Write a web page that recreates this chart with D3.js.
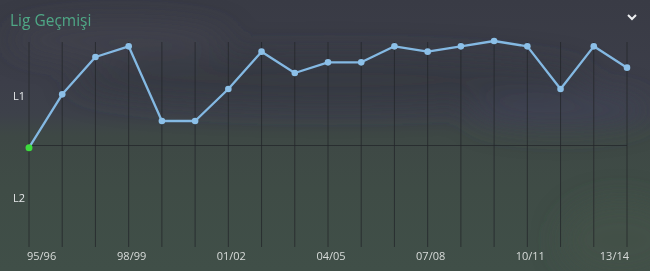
<!DOCTYPE html>
<html>
<head>
<meta charset="utf-8">
<script src="https://cdn.jsdelivr.net/npm/d3@7"></script>
<style>
  html, body { margin: 0; padding: 0; background: #3c3f47; }
  svg { display: block; font-family: "Open Sans", "Noto Sans", sans-serif; }
</style>
</head>
<body>
<svg id="chart"></svg>
<script>
let seasons = ["95/96", "96/97", "97/98", "98/99", "99/00", "00/01", "01/02", "02/03", "03/04", "04/05",
               "05/06", "06/07", "07/08", "08/09", "09/10", "10/11", "11/12", "12/13", "13/14"]
// overall place: 1-20 = L1, 21-40 = L2
let positions = [21, 11, 4, 2, 16, 16, 10, 3, 7, 5, 5, 2, 3, 2, 1, 2, 10, 2, 6]
let leagues = ["L1", "L2"]
let tickLabels = ["95/96", "98/99", "01/02", "04/05", "07/08", "10/11", "13/14"]

let width = 650
let height = 271
let plotTop = 42
let plotBottom = 247

let svg = d3.select('#chart')
    .attr('width', width)
    .attr('height', height)

let defs = svg.append('defs')

let bg = defs.append('linearGradient')
    .attr('id', 'bg')
    .attr('x1', 0).attr('y1', 0).attr('x2', 0).attr('y2', 1)
let bgStops = [[0, '#393b45'], [0.3, '#3c3e49'], [0.42, '#3d414a'], [0.5, '#3e4845'], [0.7, '#3f4c46'], [1, '#404f48']]
bgStops.forEach(s => bg.append('stop').attr('offset', s[0]).attr('stop-color', s[1]))

let blur = defs.append('filter').attr('id', 'blur')
    .attr('x', '-50%').attr('y', '-50%').attr('width', '200%').attr('height', '200%')
blur.append('feGaussianBlur').attr('stdDeviation', 14)

svg.append('rect')
    .attr('width', width)
    .attr('height', height)
    .attr('fill', 'url(#bg)')

// blurry stadium stand shapes
let blobs = svg.append('g').attr('filter', 'url(#blur)')
blobs.append('ellipse').attr('cx', 330).attr('cy', 80).attr('rx', 260).attr('ry', 26).attr('fill', '#35363f').attr('opacity', 0.7)
blobs.append('ellipse').attr('cx', 120).attr('cy', 40).attr('rx', 110).attr('ry', 18).attr('fill', '#44464f').attr('opacity', 0.6)
blobs.append('ellipse').attr('cx', 560).attr('cy', 110).attr('rx', 90).attr('ry', 18).attr('fill', '#3f4256').attr('opacity', 0.7)
blobs.append('ellipse').attr('cx', 620).attr('cy', 240).attr('rx', 60).attr('ry', 40).attr('fill', '#43534a').attr('opacity', 0.6)

// title and chevron
svg.append('text')
    .attr('x', 10)
    .attr('y', 26)
    .attr('font-size', 15.5)
    .attr('fill', '#4fa886')
    .text('Lig Geçmişi')

svg.append('path')
    .attr('d', 'M628,15 L632,19 L636,15')
    .attr('fill', 'none')
    .attr('stroke', '#eef0f2')
    .attr('stroke-width', 2)

let xScale = d3.scalePoint()
    .domain(seasons)
    .range([29, 627])

let yScale = d3.scaleLinear()
    .domain([1, 40])
    .range([41, 249])

// vertical grid
svg.append('g')
    .selectAll('line')
    .data(seasons)
    .enter()
    .append('line')
    .attr('x1', d => xScale(d))
    .attr('x2', d => xScale(d))
    .attr('y1', plotTop)
    .attr('y2', plotBottom)
    .attr('stroke', '#23262a')
    .attr('stroke-opacity', 0.75)
    .attr('stroke-width', 1)

// divider between leagues
svg.append('line')
    .attr('x1', xScale(seasons[0]))
    .attr('x2', xScale(seasons[seasons.length - 1]))
    .attr('y1', Math.round(yScale(20.5)) + 0.5)
    .attr('y2', Math.round(yScale(20.5)) + 0.5)
    .attr('stroke', '#23262a')
    .attr('stroke-opacity', 0.75)

// league labels
let bandCenters = [(plotTop + yScale(20.5)) / 2, (yScale(20.5) + plotBottom) / 2]
svg.append('g')
    .selectAll('text')
    .data(leagues)
    .enter()
    .append('text')
    .attr('x', 19)
    .attr('y', (d, i) => bandCenters[i] + 6)
    .attr('text-anchor', 'middle')
    .attr('font-size', 11)
    .attr('fill', '#e6e8ea')
    .text(d => d)

// season tick labels
let last = tickLabels.length - 1
svg.append('g')
    .selectAll('text')
    .data(tickLabels)
    .enter()
    .append('text')
    .attr('x', (d, i) => i == 0 ? xScale(d) - 2 : (i == last ? xScale(d) + 2 : xScale(d) + 3))
    .attr('y', 260)
    .attr('text-anchor', (d, i) => i == 0 ? 'start' : (i == last ? 'end' : 'middle'))
    .attr('font-size', 11)
    .attr('fill', '#d8dcda')
    .text(d => d)

// history line
let line = d3.line()
    .x((d, i) => xScale(seasons[i]))
    .y(d => yScale(d))

svg.append('path')
    .datum(positions)
    .attr('d', line)
    .attr('fill', 'none')
    .attr('stroke', '#84b9e3')
    .attr('stroke-width', 2.3)
    .attr('stroke-linejoin', 'round')

svg.append('g')
    .selectAll('circle')
    .data(positions)
    .enter()
    .append('circle')
    .attr('cx', (d, i) => xScale(seasons[i]))
    .attr('cy', d => yScale(d))
    .attr('r', (d, i) => i == 0 ? 3.5 : 3.3)
    .attr('fill', (d, i) => i == 0 ? '#3ddc3d' : '#8cc0e8')
</script>
</body>
</html>
